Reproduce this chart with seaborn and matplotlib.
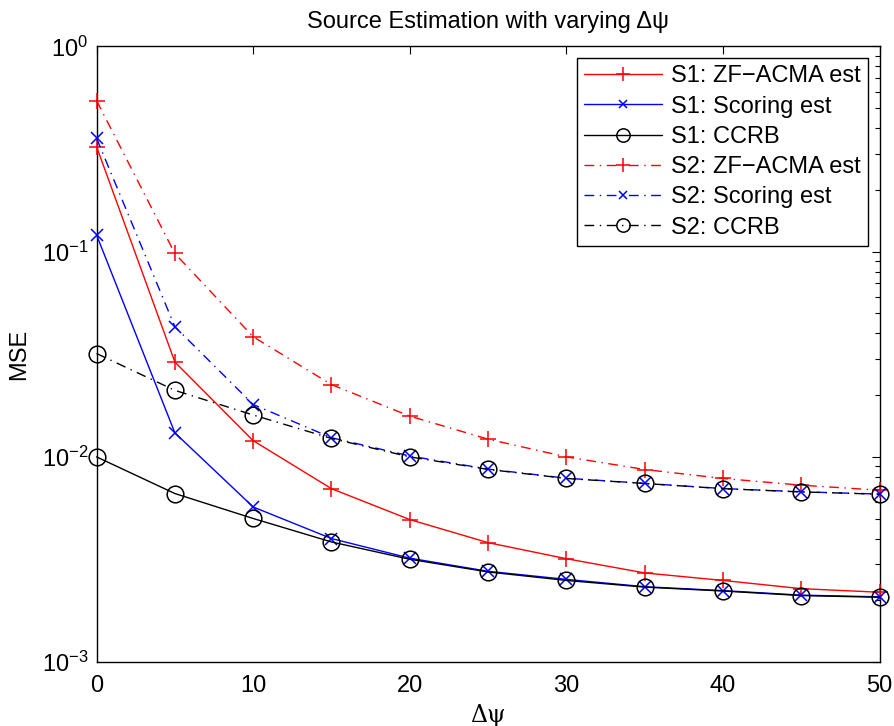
import numpy as np
import pandas as pd
import matplotlib
matplotlib.use("Agg")
import matplotlib.pyplot as plt
import seaborn as sns

# data
dpsi = [0, 5, 10, 15, 20, 25, 30, 35, 40, 45, 50]
s1_zf = [0.325, 0.029, 0.012, 0.0070, 0.00495, 0.00382, 0.00319, 0.00272, 0.00250, 0.00228, 0.00219]
s1_scoring = [0.1206, 0.0131, 0.0057, 0.0040, 0.00321, 0.00277, 0.00253, 0.00233, 0.00223, 0.00212, 0.00208]
s1_ccrb = [0.0100, 0.00663, 0.00501, 0.00385, 0.00317, 0.00275, 0.00250, 0.00232, 0.00222, 0.00211, 0.00207]
s2_zf = [0.545, 0.098, 0.0385, 0.0225, 0.0158, 0.0122, 0.0100, 0.00868, 0.00785, 0.00728, 0.00688]
s2_scoring = [0.357, 0.0431, 0.0180, 0.0124, 0.0101, 0.00872, 0.00787, 0.00743, 0.00701, 0.00676, 0.00659]
s2_ccrb = [0.0319, 0.0211, 0.0160, 0.0123, 0.0100, 0.00869, 0.00785, 0.00742, 0.00700, 0.00675, 0.00658]

labels = ['S1: ZF\u2212ACMA est', 'S1: Scoring est', 'S1: CCRB',
          'S2: ZF\u2212ACMA est', 'S2: Scoring est', 'S2: CCRB']
series = [s1_zf, s1_scoring, s1_ccrb, s2_zf, s2_scoring, s2_ccrb]

sns.set_style("white")
plt.rcParams['font.family'] = ['Liberation Sans', 'DejaVu Sans']
plt.rcParams['mathtext.fontset'] = 'custom'
plt.rcParams['mathtext.rm'] = 'Liberation Sans'
plt.rcParams['mathtext.it'] = 'Liberation Sans:italic'
plt.rcParams['text.color'] = 'black'
plt.rcParams['axes.labelcolor'] = 'black'
plt.rcParams['xtick.color'] = 'black'
plt.rcParams['ytick.color'] = 'black'

dashdot = (0, (7, 4, 1, 4))
styles = [
    dict(color='red', marker='+', ms=12, linestyle='-'),
    dict(color='blue', marker='x', ms=8, linestyle='-'),
    dict(color='black', marker='o', ms=12, mfc='none', linestyle='-'),
    dict(color='red', marker='+', ms=12, linestyle=dashdot),
    dict(color='blue', marker='x', ms=8, linestyle=dashdot),
    dict(color='black', marker='o', ms=12, mfc='none', linestyle=dashdot),
]

fig = plt.figure(figsize=(8.94, 7.26), dpi=100)
ax = fig.add_axes([0.108, 0.088, 0.876, 0.848])

for lab, vals, st in zip(labels, series, styles):
    df = pd.DataFrame({'dpsi': dpsi, 'mse': vals})
    sns.lineplot(data=df, x='dpsi', y='mse', ax=ax, label=lab, lw=1,
                 mew=1.1, mec=st['color'], clip_on=False, zorder=3, **st)

ax.set_yscale('log')
ax.set_xlim(0, 50)
ax.set_ylim(1e-3, 1)
ax.set_xticks([0, 10, 20, 30, 40, 50])
ax.tick_params(axis='both', which='both', direction='in', top=True, right=True,
               labelsize=17, color='black', labelcolor='black')
ax.tick_params(which='major', length=6, width=0.8)
ax.tick_params(which='minor', length=3.5, width=0.8)
ax.tick_params(axis='x', pad=9)
ax.tick_params(axis='y', pad=6)
for sp in ax.spines.values():
    sp.set_color('black')
    sp.set_linewidth(1)
    sp.set_zorder(2)

ax.set_title('Source Estimation with varying \u0394\u03c8', fontsize=17, pad=13)
ax.set_xlabel('\u0394\u03c8', fontsize=17, family='DejaVu Serif', labelpad=5)
ax.set_ylabel('MSE', fontsize=17, labelpad=8)

leg = ax.legend(loc='upper right', fontsize=17, numpoints=1, handlelength=3.3,
                fancybox=False, framealpha=1, edgecolor='black',
                borderaxespad=0.5, labelspacing=0.35, handletextpad=0.4,
                borderpad=0.3, markerscale=0.8)
leg.get_frame().set_linewidth(1)
leg.set_zorder(5)

fig.savefig('out.png', dpi=100)
